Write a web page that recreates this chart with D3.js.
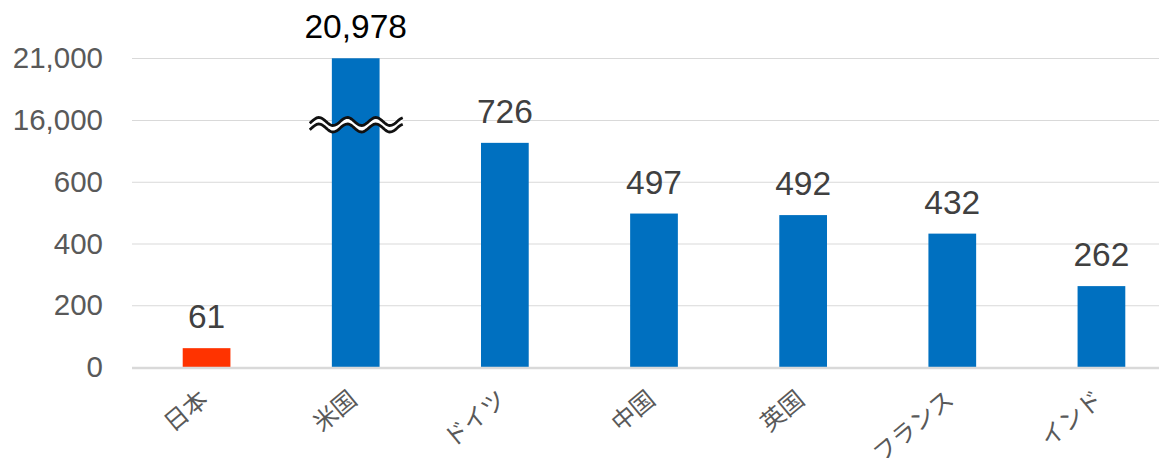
<!DOCTYPE html>
<html><head><meta charset="utf-8">
<script src="https://cdn.jsdelivr.net/npm/d3@7"></script>
<style>
body{margin:0;background:#fff;}
svg{display:block;font-family:"Liberation Sans",Arial,"Noto Sans CJK JP",sans-serif;}
</style></head><body>
<svg id="c" width="1159" height="458"></svg>
<script>
const categories = ["日本","米国","ドイツ","中国","英国","フランス","インド"];
const values = [61, 20978, 726, 497, 492, 432, 262];
const barColors = ["#FF3300","#0070C0","#0070C0","#0070C0","#0070C0","#0070C0","#0070C0"];
const tickValues = [0, 200, 400, 600, 16000, 21000];

(function(){
const svg = d3.select("#c");
const x = d3.scaleBand().domain(categories).range([132, 1176]).paddingInner(0.68).paddingOuter(0.34);
// broken axis: 0..800 linear, then 16,000..21,000 above the break
const y = d3.scaleLinear().domain([0, 800, 16000, 21000]).range([367, 120, 120, 58]);

// gridlines
svg.append("g").selectAll("line").data(tickValues.filter(d=>d>0)).join("line")
  .attr("x1",132).attr("x2",1159).attr("y1",d=>y(d)+0.5).attr("y2",d=>y(d)+0.5)
  .attr("stroke","#d9d9d9").attr("stroke-width",1);

// y tick labels
svg.append("g").selectAll("text").data(tickValues).join("text")
  .attr("x",103).attr("y",d=>y(d)+10).attr("text-anchor","end")
  .attr("font-size",29.5).attr("fill","#595959").text(d=>d3.format(",")(d));

// bars
svg.append("g").selectAll("rect").data(values).join("rect")
  .attr("x",(d,i)=>x(categories[i])).attr("width",x.bandwidth())
  .attr("y",d=>y(d)).attr("height",d=>y(0)-y(d))
  .attr("fill",(d,i)=>barColors[i]);

// axis line
svg.append("line").attr("x1",132).attr("x2",1159).attr("y1",y(0)+1).attr("y2",y(0)+1)
  .attr("stroke","#d9d9d9").attr("stroke-width",2.6);

// value labels
svg.append("g").selectAll("text").data(values).join("text")
  .attr("x",(d,i)=>x(categories[i])+x.bandwidth()/2).attr("y",d=>y(d)-20)
  .attr("text-anchor","middle").attr("font-size",33.5)
  .attr("fill",d=>d>1000?"#000":"#404040").text(d=>d3.format(",")(d));

// x labels
svg.append("g").selectAll("text").data(categories).join("text")
  .attr("text-anchor","end").attr("font-size",24).attr("fill","#595959")
  .attr("font-family","'Noto Sans CJK JP',sans-serif")
  .attr("transform",d=>`translate(${x(d)+x.bandwidth()/2+3},402) rotate(-40)`)
  .text(d=>d);

// break mark on the US bar
const bx = x("米国")+x.bandwidth()/2;
const cy = y(16000);
const x0 = bx-46, x1 = bx+47, P = 28.5, A = 4;
function wave(off, rev){
  const pts=[];
  for(let xx=x0; xx<=x1; xx+=1) pts.push([xx, cy+off - A*Math.sin(2*Math.PI*(xx-x0-2)/P)]);
  return rev?pts.reverse():pts;
}
const w1 = wave(1.5,false), w2 = wave(8,true);
svg.append("path").attr("d", "M"+w1.map(p=>p.join(",")).join("L")+"L"+w2.map(p=>p.join(",")).join("L")+"Z")
  .attr("fill","#fff");
const line = d3.line();
svg.append("path").attr("d",line(wave(1.5,false))).attr("fill","none").attr("stroke","#111").attr("stroke-width",2.8);
svg.append("path").attr("d",line(wave(8,false))).attr("fill","none").attr("stroke","#111").attr("stroke-width",2.8);
})();
</script>
</body></html>
